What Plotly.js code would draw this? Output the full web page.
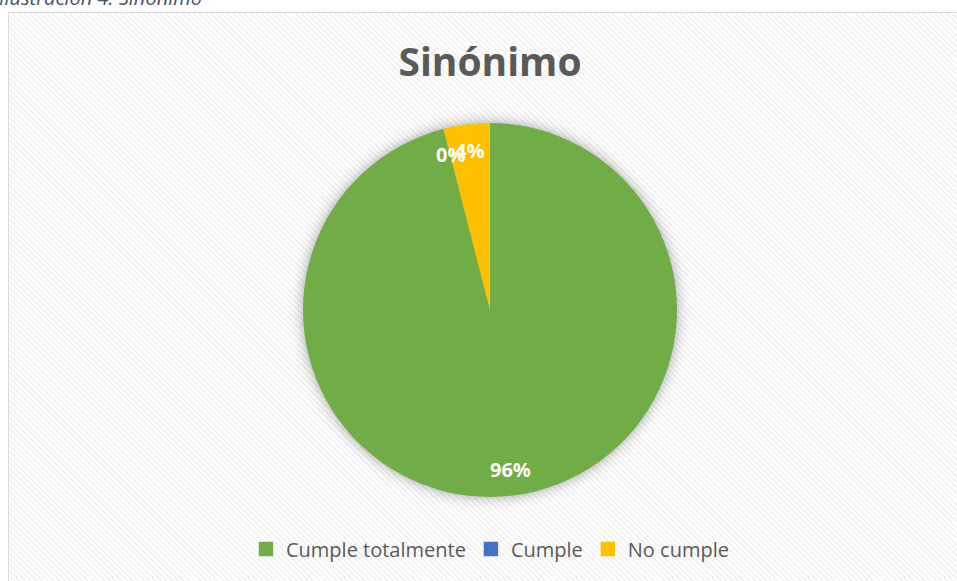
<!DOCTYPE html>
<html>
<head>
<meta charset="utf-8">
<script src="https://cdn.plot.ly/plotly-3.0.1.min.js"></script>
<style>
  html, body { margin:0; padding:0; background:#fff; overflow:hidden; }
  #wrap { position:relative; width:957px; height:581px; }
  #frame { position:absolute; left:8px; top:12px; width:960px; height:580px;
    border:1px solid #d9d9d9; box-sizing:border-box;
    background: repeating-linear-gradient(45deg, #ffffff 0px, #ffffff 2px, #f3f3f3 2px, #f3f3f3 4px); }
  #caption { position:absolute; left:-1px; top:-16px; font-family:'Open Sans', sans-serif; font-style:italic;
    font-size:20px; color:#44546A; white-space:nowrap; }
  #chart { position:absolute; left:0; top:0; width:957px; height:581px; }
  .pielayer { filter: drop-shadow(0px 0px 7px rgba(0,0,0,0.35)); }
</style>
</head>
<body>
<div id="wrap">
  <div id="caption">Ilustración 4: Sinónimo</div>
  <div id="frame"></div>
  <div id="chart"></div>
</div>
<script>
const chartTitle = 'Sinónimo';
const labels = ['Cumple totalmente', 'Cumple', 'No cumple'];
const values = [96, 0, 4];
const colors = ['#70AD47', '#4472C4', '#FFC000'];

const W = 957, H = 581;
// pie placement (pixels)
const cx = 490, cy = 310, R = 187;
const dom = { x: [(cx - R) / W, (cx + R) / W], y: [(H - cy - R) / H, (H - cy + R) / H] };

const total = values.reduce((a, b) => a + b, 0);
const annotations = [];
let cum = 0;
values.forEach((v, i) => {
  const mid = (cum + v / 2) / total * 2 * Math.PI; // clockwise from top
  cum += v;
  const rr = 0.86 * R;
  const px = cx + rr * Math.sin(mid);
  const py = cy - rr * Math.cos(mid);
  annotations.push({
    x: px / W, y: (H - py) / H, xref: 'paper', yref: 'paper',
    text: '<b>' + Math.round(v / total * 100) + '%</b>', showarrow: false,
    font: { family: 'Open Sans, sans-serif', size: 20, color: '#ffffff' },
    xanchor: 'center', yanchor: 'middle'
  });
});

const data = [{
  type: 'pie', labels: labels, values: values, sort: false,
  direction: 'clockwise', rotation: 0,
  marker: { colors: colors, line: { width: 0 } },
  textinfo: 'none', hoverinfo: 'label+percent',
  domain: dom
}];

const layout = {
  width: W, height: H,
  margin: { l: 0, r: 0, t: 0, b: 0 },
  paper_bgcolor: 'rgba(0,0,0,0)', plot_bgcolor: 'rgba(0,0,0,0)',
  title: { text: '<b>' + chartTitle + '</b>', x: 0.512, xanchor: 'center', y: 1 - 62 / H, yanchor: 'middle',
    font: { family: 'Open Sans, sans-serif', size: 39, color: '#595959' } },
  showlegend: true,
  legend: { orientation: 'h', x: 0.512, xanchor: 'center', y: (H - 549) / H, yanchor: 'middle',
    font: { family: 'Open Sans, sans-serif', size: 20, color: '#595959' }, bgcolor: 'rgba(0,0,0,0)' },
  annotations: annotations
};

Plotly.newPlot('chart', data, layout, { displayModeBar: false, staticPlot: true }).then(() => {
  document.querySelectorAll('.legendpoints path').forEach(p => {
    const t = p.getAttribute('transform') || '';
    p.setAttribute('transform', t + ' scale(1.2)');
  });
});
</script>
</body>
</html>
